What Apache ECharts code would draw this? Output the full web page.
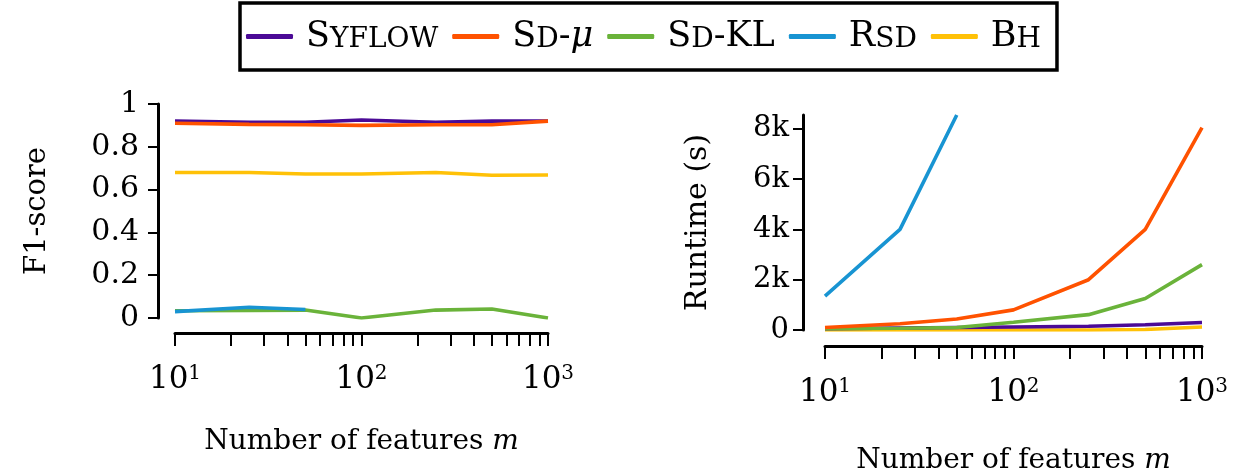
<!DOCTYPE html>
<html>
<head>
<meta charset="utf-8">
<script src="https://cdn.jsdelivr.net/npm/echarts@6/dist/echarts.min.js"></script>
<style>
  html, body { margin: 0; padding: 0; background: #fff; }
  #chart { width: 1260px; height: 476px; }
</style>
</head>
<body>
<div id="chart"></div>
<script>
  // x positions: number of features m
  const features = [10, 25, 50, 100, 250, 500, 1000]
  const methods = ['Syflow', 'SD-μ', 'SD-KL', 'RSD', 'BH']

  // F1-score per method
  const f1Syflow = [0.92, 0.915, 0.915, 0.925, 0.915, 0.92, 0.92]
  const f1SdMu = [0.91, 0.905, 0.903, 0.90, 0.903, 0.903, 0.92]
  const f1SdKl = [0.034, 0.035, 0.037, 0.0, 0.037, 0.042, 0.0]
  const f1Rsd = [0.03, 0.05, 0.04]
  const f1Bh = [0.68, 0.68, 0.673, 0.673, 0.68, 0.667, 0.668]

  // runtime (s) per method
  const rtSyflow = [50, 80, 100, 120, 150, 210, 300]
  const rtSdMu = [100, 250, 440, 800, 2000, 4000, 8050]
  const rtSdKl = [50, 70, 100, 310, 610, 1250, 2600]
  const rtRsd = [1350, 4000, 8550]
  const rtBh = [0, 0, 0, 0, 0, 20, 120]

  // axis ticks
  const logTicks = [10, 20, 30, 40, 50, 60, 70, 80, 90, 100, 200, 300, 400, 500, 600, 700, 800, 900, 1000]
  const logLabels = [10, 100, 1000]
  const f1Ticks = [0, 0.2, 0.4, 0.6, 0.8, 1]
  const rtTicks = [0, 2000, 4000, 6000, 8000]

  const colorOf = {
    'Syflow': '#4b0a96',
    'SD-μ': '#ff5200',
    'SD-KL': '#6ab33a',
    'RSD': '#1894d2',
    'BH': '#ffc107'
  }
  const font = "'DejaVu Serif', serif"

  const pairs = (vals) => vals.map((v, i) => [features[i], v])

  // small caps done by hand with rich text
  const legendText = {
    'Syflow': '{g|}{c|S}{s|YFLOW}',
    'SD-μ': '{g|}{c|S}{s|D}{c|-}{i|μ}',
    'SD-KL': '{g|}{c|S}{s|D}{c|-KL}',
    'RSD': '{g|}{c|R}{s|SD}',
    'BH': '{g|}{c|B}{s|H}'
  }

  const xAxisFor = (gridIndex, offset, nameGap) => ({
    type: 'log',
    logBase: 10,
    gridIndex: gridIndex,
    min: 10,
    max: 1000,
    offset: offset,
    splitLine: { show: false },
    axisLine: { onZero: false, lineStyle: { color: '#000', width: 3 } },
    axisTick: { customValues: logTicks, length: 13, lineStyle: { color: '#000', width: 2 } },
    axisLabel: {
      customValues: logLabels,
      margin: 31,
      fontFamily: font,
      formatter: v => '{b|10}{s|' + Math.round(Math.log10(v)) + '}',
      rich: {
        b: { fontSize: 31, fontFamily: font, color: '#000', lineHeight: 32 },
        s: { fontSize: 20, fontFamily: font, color: '#000', lineHeight: 14, verticalAlign: 'top' }
      }
    },
    name: 'Number of features {i|m}',
    nameLocation: 'middle',
    nameGap: nameGap,
    nameTextStyle: {
      fontFamily: font, fontSize: 28, color: '#000',
      rich: { i: { fontFamily: font, fontStyle: 'italic', fontSize: 28, color: '#000' } }
    }
  })

  const yAxisBase = {
    type: 'value',
    splitLine: { show: false },
    axisLine: { show: true, lineStyle: { color: '#000', width: 3 } },
    axisTick: { show: true, length: 10, lineStyle: { color: '#000', width: 2 } },
    nameLocation: 'middle',
    nameRotate: 90,
    nameTextStyle: { fontFamily: font, fontSize: 29, color: '#000' }
  }

  const lineSeries = (name, data, xi, yi) => ({
    name: name,
    type: 'line',
    xAxisIndex: xi,
    yAxisIndex: yi,
    data: data,
    showSymbol: false,
    symbol: 'none',
    color: colorOf[name],
    lineStyle: { width: 3.6, color: colorOf[name] },
    itemStyle: { color: colorOf[name] },
    emphasis: { disabled: true },
    animation: false
  })

  const chart = echarts.init(document.getElementById('chart'))

  const option = {
    animation: false,
    textStyle: { fontFamily: font, color: '#000' },
    legend: {
      data: methods,
      left: 240,
      top: 3,
      padding: [16, 16, 16, 6],
      itemGap: 14,
      itemWidth: 47,
      itemHeight: 5,
      icon: 'roundRect',
      borderColor: '#000',
      borderWidth: 3.5,
      formatter: name => legendText[name],
      textStyle: {
        fontFamily: font,
        color: '#000',
        rich: {
          g: { width: 8 },
          c: { fontFamily: font, fontSize: 35, lineHeight: 35, color: '#000', verticalAlign: 'bottom' },
          s: { fontFamily: font, fontSize: 28, lineHeight: 29, color: '#000', verticalAlign: 'bottom' },
          i: { fontFamily: font, fontSize: 35, lineHeight: 35, fontStyle: 'italic', color: '#000', verticalAlign: 'bottom' }
        }
      }
    },
    grid: [
      { left: 175, top: 104, width: 373, height: 214 },
      { left: 825, top: 115, width: 377, height: 218 }
    ],
    xAxis: [
      xAxisFor(0, 15, 95),
      xAxisFor(1, 16, 101)
    ],
    yAxis: [
      Object.assign({}, yAxisBase, {
        gridIndex: 0,
        min: 0,
        max: 1,
        interval: 0.2,
        offset: 17,
        name: 'F1-score',
        nameGap: 106,
        axisTick: Object.assign({}, yAxisBase.axisTick, { customValues: f1Ticks }),
        axisLabel: {
          customValues: f1Ticks,
          margin: 19,
          fontFamily: font,
          fontSize: 30,
          color: '#000',
          formatter: v => (v === 0 || v === 1) ? String(v) : v.toFixed(1)
        }
      }),
      Object.assign({}, yAxisBase, {
        gridIndex: 1,
        min: 0,
        max: 8550,
        offset: 22,
        name: 'Runtime (s)',
        nameGap: 90,
        nameTextStyle: { fontFamily: font, fontSize: 30, color: '#000' },
        axisTick: Object.assign({}, yAxisBase.axisTick, { customValues: rtTicks }),
        axisLabel: {
          customValues: rtTicks,
          margin: 14,
          fontFamily: font,
          fontSize: 29,
          color: '#000',
          formatter: v => v === 0 ? '0' : (v / 1000) + 'k'
        }
      })
    ],
    series: [
      lineSeries('Syflow', pairs(f1Syflow), 0, 0),
      lineSeries('SD-μ', pairs(f1SdMu), 0, 0),
      lineSeries('BH', pairs(f1Bh), 0, 0),
      lineSeries('SD-KL', pairs(f1SdKl), 0, 0),
      lineSeries('RSD', pairs(f1Rsd), 0, 0),
      lineSeries('BH', pairs(rtBh), 1, 1),
      lineSeries('Syflow', pairs(rtSyflow), 1, 1),
      lineSeries('SD-KL', pairs(rtSdKl), 1, 1),
      lineSeries('SD-μ', pairs(rtSdMu), 1, 1),
      lineSeries('RSD', pairs(rtRsd), 1, 1)
    ]
  }

  chart.setOption(option)

  window.addEventListener('resize', () => {
    chart.resize()
  })
</script>
</body>
</html>
